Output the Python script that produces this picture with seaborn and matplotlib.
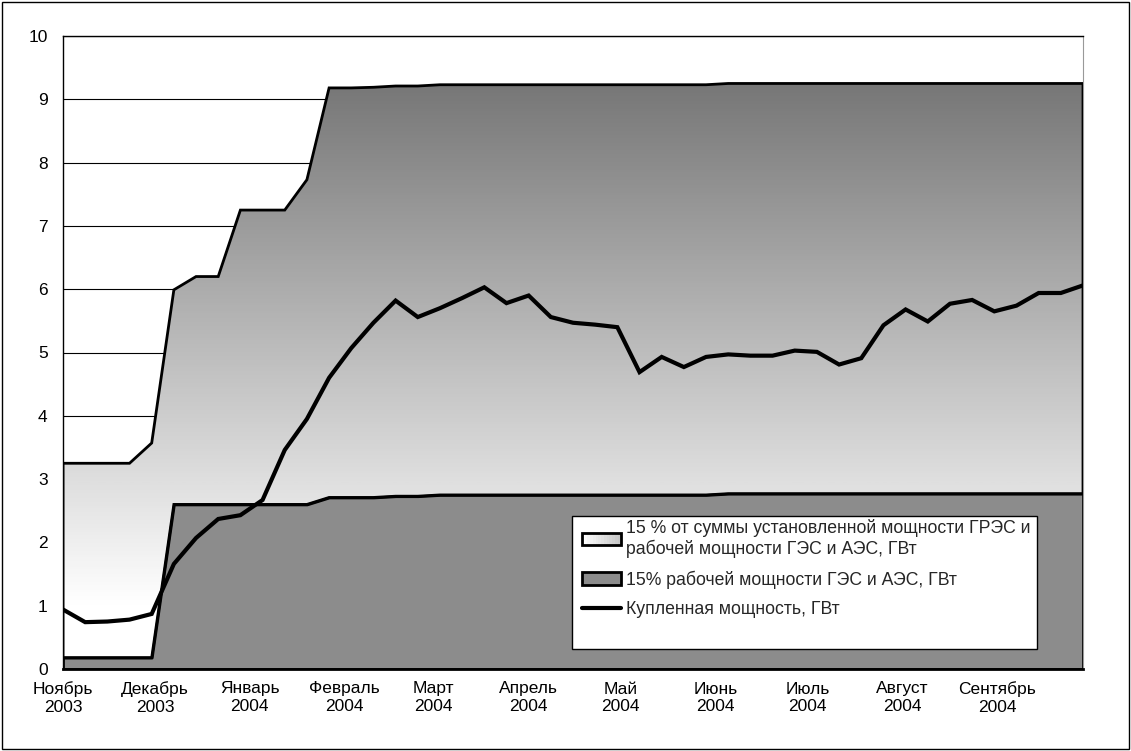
import numpy as np
import pandas as pd
import matplotlib
matplotlib.use("Agg")
import matplotlib.pyplot as plt
import matplotlib.dates as mdates
import seaborn as sns
from matplotlib.patches import Patch, Polygon, Rectangle
from matplotlib.lines import Line2D
from matplotlib.legend_handler import HandlerBase
from matplotlib.colors import LinearSegmentedColormap

# weekly observations, Nov 2003 - Sep 2004 (GW)
hydro_nuclear = ([0.18] * 5 + [2.60] * 7 + [2.71] * 3 + [2.73] * 2
                 + [2.75] * 13 + [2.77] * 17)
total_limit = ([3.25] * 4 + [3.57, 5.99, 6.20, 6.20, 7.25, 7.25, 7.25, 7.73,
                9.18, 9.18, 9.19, 9.21, 9.21] + [9.23] * 13 + [9.25] * 17)
bought = [0.94, 0.74, 0.75, 0.78, 0.87, 1.66, 2.07, 2.37, 2.43, 2.67,
          3.46, 3.95, 4.60, 5.07, 5.47, 5.82, 5.56, 5.70, 5.86, 6.03,
          5.78, 5.90, 5.56, 5.47, 5.44, 5.40, 4.69, 4.93, 4.77, 4.93,
          4.97, 4.95, 4.95, 5.03, 5.01, 4.81, 4.91, 5.43, 5.68, 5.49,
          5.77, 5.83, 5.65, 5.74, 5.94, 5.94, 6.06]

month_starts = pd.date_range("2003-11-01", "2004-09-01", freq="MS")
month_labels = ["Ноябрь\n2003", "Декабрь\n2003", "Январь\n2004", "Февраль\n2004",
                "Март\n2004", "Апрель\n2004", "Май\n2004", "Июнь\n2004",
                "Июль\n2004", "Август\n2004", "Сентябрь\n2004"]

label_total = "15 % от суммы установленной мощности ГРЭС и\nрабочей мощности ГЭС и АЭС, ГВт"
label_hydro = "15% рабочей мощности ГЭС и АЭС, ГВт"
label_bought = "Купленная мощность, ГВт"

dates = pd.date_range("2003-11-01", "2004-09-29", periods=len(bought))
x = mdates.date2num(dates)
df = pd.DataFrame({"x": x, "hydro": hydro_nuclear, "total": total_limit, "bought": bought})


class GradientHandler(HandlerBase):
    def create_artists(self, legend, orig_handle, xdescent, ydescent,
                       width, height, fontsize, trans):
        n = 14
        arts = []
        for i in range(n):
            shade = 1.0 - 0.22 * i / (n - 1)
            arts.append(Rectangle((-xdescent + i * width / n, -ydescent), width / n + 0.3, height,
                                  facecolor=str(shade), edgecolor="none", transform=trans))
        arts.append(Rectangle((-xdescent, -ydescent), width, height, fill=False,
                              edgecolor="black", lw=2, transform=trans))
        return arts


sns.set_style("white")
plt.rcParams["font.family"] = ["Liberation Sans", "DejaVu Sans"]
plt.rcParams["font.size"] = 12

fig = plt.figure(figsize=(11.31, 7.51), dpi=100)
ax = fig.add_axes([63 / 1131, 82 / 751, 1020 / 1131, 633 / 751])

# horizontal grid
for v in range(0, 11):
    ax.axhline(v, color="black", lw=0.8, zorder=0.5)

# gradient area between hydro+nuclear and total
grad = np.linspace(0, 10, 400).reshape(-1, 1)
cmap = LinearSegmentedColormap.from_list(
    "g", [(0.0, "#ffffff"), (0.1, "#ffffff"), (0.925, "#777777"), (1.0, "#6f6f6f")])
im = ax.imshow(grad, extent=[x[0], x[-1], 0, 10], origin="lower", aspect="auto",
               cmap=cmap, vmin=0, vmax=10, zorder=1)
upper_poly = Polygon(np.column_stack([np.r_[x, x[::-1]],
                                      np.r_[df["total"], df["hydro"][::-1]]]),
                     closed=True, facecolor="none", edgecolor="black", lw=2,
                     joinstyle="miter", zorder=3)
ax.add_patch(upper_poly)
im.set_clip_path(upper_poly)

# lower solid area
ax.fill_between(df["x"], 0, df["hydro"], facecolor="#8c8c8c", edgecolor="black",
                lw=2, zorder=2)

sns.lineplot(data=df, x="x", y="bought", color="black", lw=3, ax=ax, zorder=4,
             solid_joinstyle="miter")

ax.set_xlim(x[0], x[-1])
ax.set_ylim(0, 10)
ax.set_yticks(range(0, 11))
ax.set_xticks(mdates.date2num(month_starts))
ax.set_xticklabels(month_labels)
ax.set_xlabel("")
ax.set_ylabel("")
ax.tick_params(axis="both", direction="out", length=5, width=1, color="black",
               labelsize=12.5, labelcolor="black")
ax.tick_params(axis="x", pad=4)
ax.tick_params(axis="y", pad=6)
for side in ["left", "bottom", "top"]:
    ax.spines[side].set_color("black")
    ax.spines[side].set_linewidth(1)
ax.spines["bottom"].set_linewidth(2)
ax.spines["right"].set_color("#999999")
ax.spines["right"].set_linewidth(0.8)
ax.set_facecolor("white")

# legend box (Excel style: tight top, roomy bottom)
ax.add_patch(Rectangle((509 / 1020, 20 / 633), 465 / 1020, 133 / 633,
                       transform=ax.transAxes, facecolor="white", edgecolor="black",
                       lw=1, zorder=5))
handles = [Patch(facecolor="#e6e6e6", edgecolor="black", lw=2),
           Patch(facecolor="#8c8c8c", edgecolor="black", lw=2),
           Line2D([], [], color="black", lw=3)]
leg = ax.legend(handles, [label_total, label_hydro, label_bought],
                handler_map={handles[0]: GradientHandler()},
                loc="upper left", bbox_to_anchor=(517 / 1020, 152 / 633),
                fontsize=12.7, frameon=False, handlelength=2.2, handletextpad=0.3,
                labelspacing=0.7, borderpad=0.1, borderaxespad=0)
leg.set_zorder(6)

fig.add_artist(Rectangle((0.0015, 0.002), 0.997, 0.996, transform=fig.transFigure,
                         fill=False, edgecolor="black", lw=1))

fig.savefig("out.png", dpi=100, facecolor="white")
